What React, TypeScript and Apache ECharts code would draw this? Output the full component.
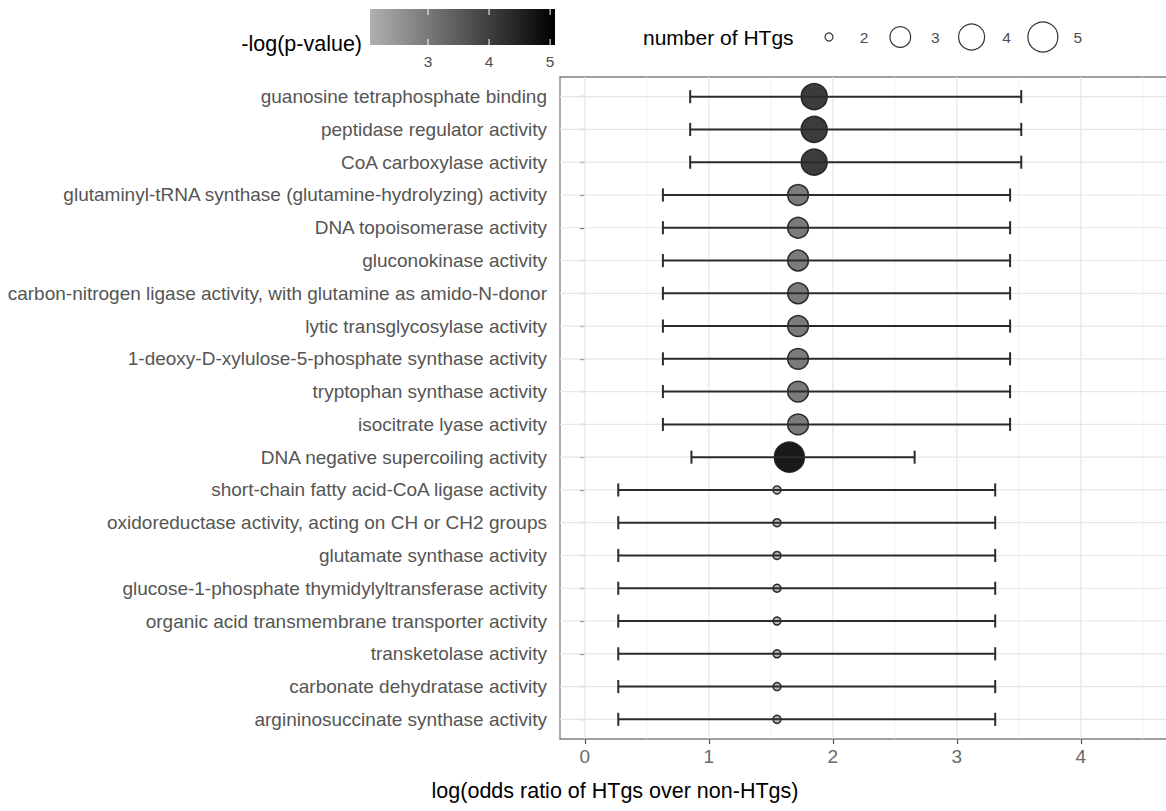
import React, { useEffect, useRef } from "react";
import * as echarts from "echarts";

const categories = [
  "guanosine tetraphosphate binding",
  "peptidase regulator activity",
  "CoA carboxylase activity",
  "glutaminyl-tRNA synthase (glutamine-hydrolyzing) activity",
  "DNA topoisomerase activity",
  "gluconokinase activity",
  "carbon-nitrogen ligase activity, with glutamine as amido-N-donor",
  "lytic transglycosylase activity",
  "1-deoxy-D-xylulose-5-phosphate synthase activity",
  "tryptophan synthase activity",
  "isocitrate lyase activity",
  "DNA negative supercoiling activity",
  "short-chain fatty acid-CoA ligase activity",
  "oxidoreductase activity, acting on CH or CH2 groups",
  "glutamate synthase activity",
  "glucose-1-phosphate thymidylyltransferase activity",
  "organic acid transmembrane transporter activity",
  "transketolase activity",
  "carbonate dehydratase activity",
  "argininosuccinate synthase activity",
];
const estimate = [1.85, 1.85, 1.85, 1.72, 1.72, 1.72, 1.72, 1.72, 1.72, 1.72, 1.72, 1.65, 1.55, 1.55, 1.55, 1.55, 1.55, 1.55, 1.55, 1.55];
const lower = [0.85, 0.85, 0.85, 0.63, 0.63, 0.63, 0.63, 0.63, 0.63, 0.63, 0.63, 0.86, 0.27, 0.27, 0.27, 0.27, 0.27, 0.27, 0.27, 0.27];
const upper = [3.52, 3.52, 3.52, 3.43, 3.43, 3.43, 3.43, 3.43, 3.43, 3.43, 3.43, 2.66, 3.31, 3.31, 3.31, 3.31, 3.31, 3.31, 3.31, 3.31];
const nHTgs = [4, 4, 4, 3, 3, 3, 3, 3, 3, 3, 3, 5, 2, 2, 2, 2, 2, 2, 2, 2];
const negLogP = [4.4, 4.4, 4.4, 3.2, 3.2, 3.2, 3.2, 3.2, 3.2, 3.2, 3.2, 5.08, 2.05, 2.05, 2.05, 2.05, 2.05, 2.05, 2.05, 2.05];

const xTicks = [0, 1, 2, 3, 4];
const xMinor = [0.5, 1.5, 2.5, 3.5, 4.5];
const colorTicks = [3, 4, 5];
const sizeBreaks = [2, 3, 4, 5];

const X_MIN = -0.2;
const X_MAX = 4.76;
const Y_MIN = 0.4;
const Y_MAX = 20.6;
const P_MIN = 2.05;
const P_MAX = 5.08;
const LOW_COLOR = "#b0b0b0";
const HIGH_COLOR = "#000000";
const FONT = "'Liberation Sans', Arial, Helvetica, sans-serif";

const sizeOf = (n: number) => 8 + 22 * Math.sqrt((n - 2) / 3);

export default function App() {
  const ref = useRef<HTMLDivElement>(null);
  useEffect(() => {
    if (!ref.current) return;
    const chart = echarts.init(ref.current, null, { renderer: "svg" });

    const gridData: any[] = [];
    xMinor.forEach((v) => gridData.push([v, Y_MIN, v, Y_MAX, 0]));
    xTicks.forEach((v) => gridData.push([v, Y_MIN, v, Y_MAX, 1]));
    categories.forEach((_, i) => gridData.push([X_MIN, i + 1, X_MAX, i + 1, 1]));

    const barData = categories.map((_, i) => [lower[i], i + 1, upper[i]]);
    const pointData = categories.map((_, i) => [estimate[i], i + 1, nHTgs[i], negLogP[i]]);

    // legend graphics
    const cbX = 370, cbY = 9, cbW = 185, cbH = 36;
    const graphics: any[] = [];
    graphics.push({
      type: "text",
      style: { text: "-log(p-value)", x: 362, y: 44, align: "right", verticalAlign: "middle", font: `21.5px ${FONT}`, fill: "#000" },
    });
    graphics.push({
      type: "rect",
      shape: { x: cbX, y: cbY, width: cbW, height: cbH },
      style: {
        fill: new echarts.graphic.LinearGradient(0, 0, 1, 0, [
          { offset: 0, color: LOW_COLOR },
          { offset: 1, color: HIGH_COLOR },
        ]),
      },
    });
    colorTicks.forEach((v) => {
      const tx = cbX + ((v - P_MIN) / (P_MAX - P_MIN)) * cbW;
      graphics.push({ type: "line", shape: { x1: tx, y1: cbY, x2: tx, y2: cbY + 6 }, style: { stroke: "#fff", lineWidth: 1 } });
      graphics.push({ type: "line", shape: { x1: tx, y1: cbY + cbH - 6, x2: tx, y2: cbY + cbH }, style: { stroke: "#fff", lineWidth: 1 } });
      graphics.push({
        type: "text",
        style: { text: String(v), x: tx, y: 61, align: "center", verticalAlign: "middle", font: `15.5px ${FONT}`, fill: "#4d4d4d" },
      });
    });
    graphics.push({
      type: "text",
      style: { text: "number of HTgs", x: 643, y: 37, align: "left", verticalAlign: "middle", font: `21px ${FONT}`, fill: "#000" },
    });
    sizeBreaks.forEach((n, i) => {
      const cx = 829 + i * 71.3;
      graphics.push({
        type: "circle",
        shape: { cx, cy: 37, r: sizeOf(n) / 2 },
        style: { fill: "#fff", stroke: "#333", lineWidth: 1.2 },
      });
      graphics.push({
        type: "text",
        style: { text: String(n), x: cx + 35, y: 37, align: "center", verticalAlign: "middle", font: `15.5px ${FONT}`, fill: "#4d4d4d" },
      });
    });
    graphics.push({
      type: "text",
      style: {
        text: "log(odds ratio of HTgs over non-HTgs)",
        x: 615,
        y: 791,
        align: "center",
        verticalAlign: "middle",
        font: `21.5px ${FONT}`,
        fill: "#000",
      },
    });

    chart.setOption({
      animation: false,
      backgroundColor: "#fff",
      grid: { left: 560, top: 77, right: 5, bottom: 72, show: true, borderColor: "#7f7f7f", borderWidth: 1.3, backgroundColor: "transparent" },
      xAxis: {
        type: "value",
        min: X_MIN,
        max: X_MAX,
        splitLine: { show: false },
        axisLine: { show: false },
        axisTick: { show: true, customValues: xTicks, length: 5, lineStyle: { color: "#555", width: 1.2 } },
        axisLabel: { customValues: xTicks, color: "#6a6a6a", fontSize: 19, fontFamily: FONT, margin: 8 },
      },
      yAxis: {
        type: "value",
        inverse: true,
        min: Y_MIN,
        max: Y_MAX,
        splitLine: { show: false },
        axisLine: { show: false },
        axisTick: { show: true, customValues: categories.map((_, i) => i + 1), length: 5, lineStyle: { color: "#555", width: 1.2 } },
        axisLabel: {
          customValues: categories.map((_, i) => i + 1),
          formatter: (v: number) => categories[Math.round(v) - 1] ?? "",
          color: "#555555",
          fontSize: 19,
          fontFamily: FONT,
          margin: 13,
        },
      },
      visualMap: {
        type: "continuous",
        show: false,
        seriesIndex: 2,
        dimension: 3,
        min: P_MIN,
        max: P_MAX,
        inRange: { color: [LOW_COLOR, HIGH_COLOR] },
      },
      graphic: graphics,
      series: [
        {
          type: "custom",
          z: 1,
          silent: true,
          encode: { x: [0, 2], y: [1, 3] },
          data: gridData,
          renderItem: (params: any, api: any) => {
            const p1 = api.coord([api.value(0), api.value(1)]);
            const p2 = api.coord([api.value(2), api.value(3)]);
            const major = api.value(4) === 1;
            return {
              type: "line",
              shape: { x1: p1[0], y1: p1[1], x2: p2[0], y2: p2[1] },
              style: { stroke: major ? "#e6e6e6" : "#f0f0f0", lineWidth: major ? 1.2 : 0.8 },
            };
          },
        },
        {
          type: "custom",
          z: 4,
          silent: true,
          encode: { x: [0, 2], y: 1 },
          data: barData,
          renderItem: (params: any, api: any) => {
            const lo = api.value(0), y = api.value(1), hi = api.value(2);
            const a = api.coord([lo, y]);
            const b = api.coord([hi, y]);
            const a1 = api.coord([lo, y - 0.2]);
            const a2 = api.coord([lo, y + 0.2]);
            const b1 = api.coord([hi, y - 0.2]);
            const b2 = api.coord([hi, y + 0.2]);
            const st = { stroke: "#2b2b2b", lineWidth: 2 };
            return {
              type: "group",
              children: [
                { type: "line", shape: { x1: a[0], y1: a[1], x2: b[0], y2: b[1] }, style: st },
                { type: "line", shape: { x1: a1[0], y1: a1[1], x2: a2[0], y2: a2[1] }, style: st },
                { type: "line", shape: { x1: b1[0], y1: b1[1], x2: b2[0], y2: b2[1] }, style: st },
              ],
            };
          },
        },
        {
          type: "scatter",
          z: 3,
          symbol: "circle",
          symbolSize: (val: number[]) => sizeOf(val[2]),
          itemStyle: { borderColor: "#1a1a1a", borderWidth: 1.5, opacity: 0.9 },
          data: pointData,
        },
      ],
    });
    return () => chart.dispose();
  }, []);

  return (
    <div style={{ position: "fixed", left: 0, top: 0, width: 1166, height: 811, overflow: "hidden", background: "#fff" }}>
      <div ref={ref} style={{ width: 1180, height: 811 }} />
    </div>
  );
}
